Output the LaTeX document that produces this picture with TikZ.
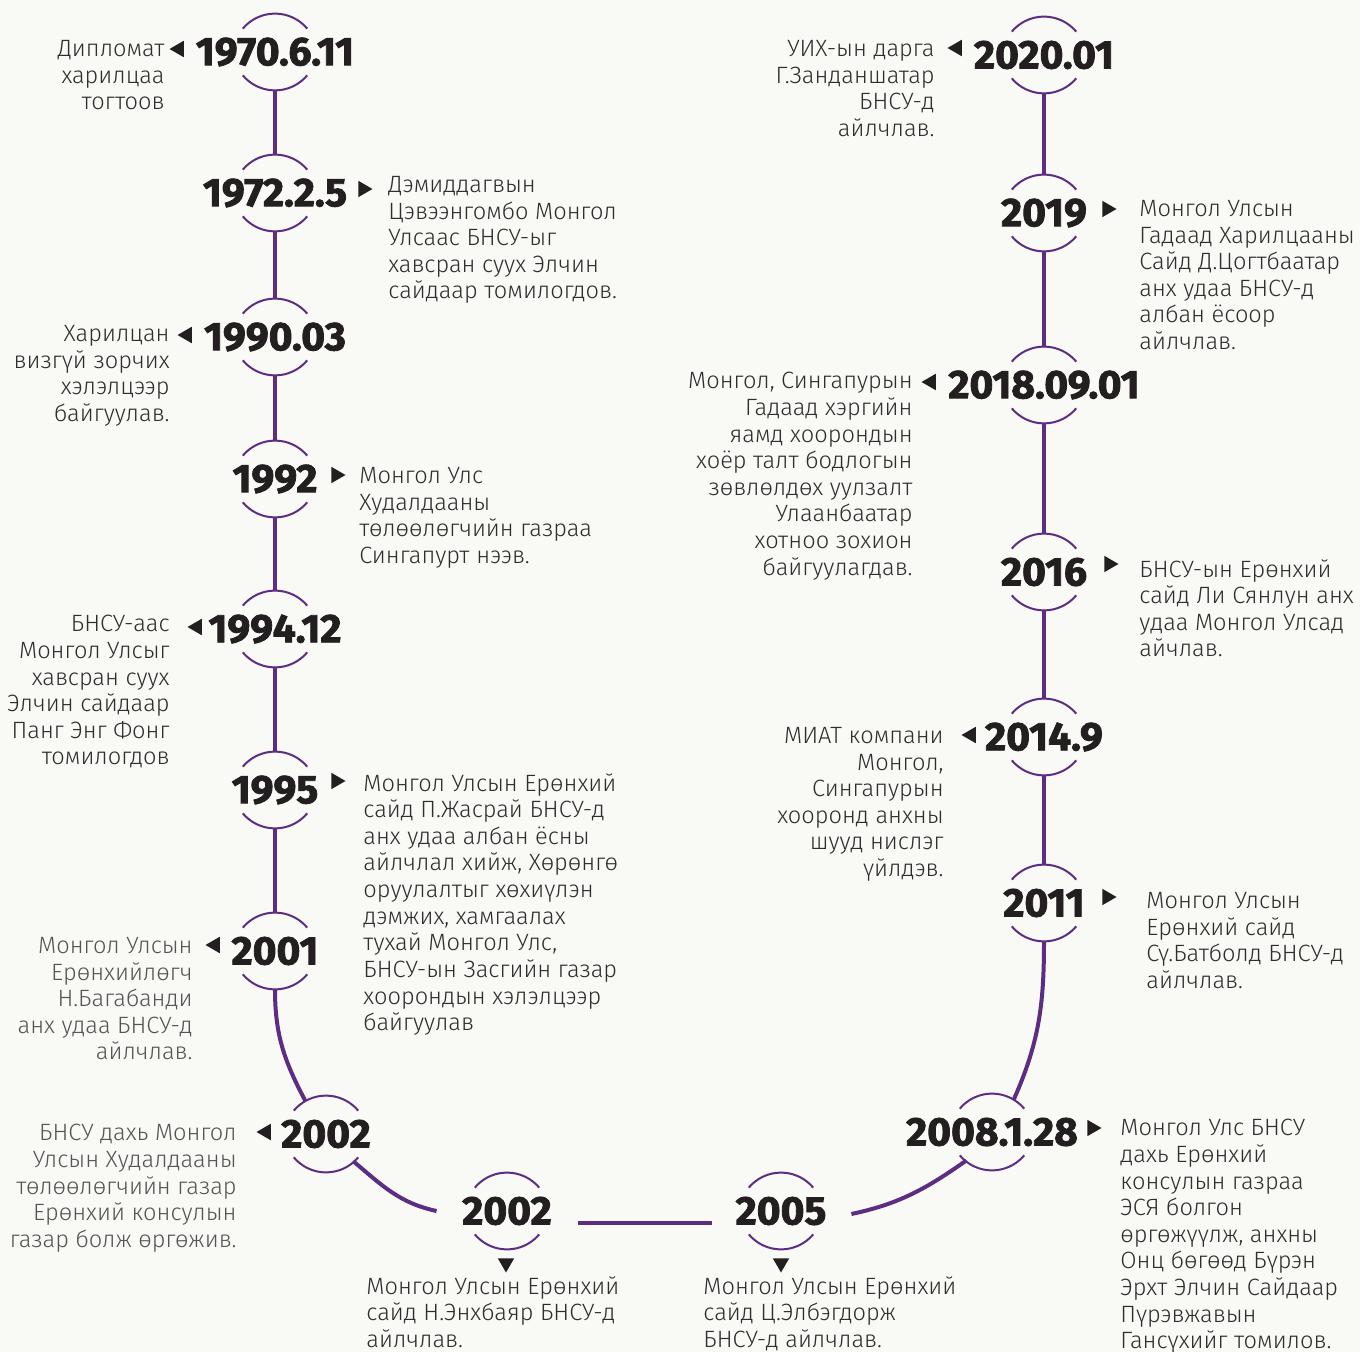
\documentclass[tikz,border=0pt]{standalone}
\usepackage{fontspec}
\setmainfont{Fira Sans}
\newfontfamily\yearfont{Fira Sans}[FakeStretch=1.02, BoldFeatures={FakeBold=2}]
\newfontfamily\bodyfont{Fira Sans Light}
\usepackage{tikz}
\usetikzlibrary{shapes.geometric, positioning, calc}
\definecolor{linepurple}{HTML}{5C2D82}
\definecolor{inkblack}{HTML}{231F20}
\definecolor{textgray}{HTML}{2E2E2E}
\definecolor{softgray}{HTML}{555555}
\definecolor{paper}{HTML}{F9F9F6}

\begin{document}
\begin{tikzpicture}[
    x=0.5pt, y=-0.5pt,
    ring/.style={circle, minimum size=38pt, inner sep=0pt},
    year/.style={font=\yearfont\bfseries\fontsize{20}{22}\selectfont, text=inkblack, inner sep=0pt},
    arcline/.style={draw=linepurple, line width=1pt},
    spine/.style={draw=linepurple, line width=2pt},
    tip/.style={regular polygon, regular polygon sides=3, fill=inkblack, inner sep=0pt, minimum size=9.5pt},
    tipleft/.style={tip, shape border rotate=90},
    tipright/.style={tip, shape border rotate=270},
    tipdown/.style={tip, shape border rotate=180},
    note/.style={font=\bodyfont\fontsize{11.8}{13.3}\selectfont, text=textgray, inner sep=0pt, execute at begin node=\strut},
    noteL/.style={note, align=right, anchor=north east},
    noteR/.style={note, align=left, anchor=north west},
    faint/.style={text=softgray}
]
\useasboundingbox[fill=paper] (0,0) rectangle (1360,1352);

% left column
\node[ring, label={[year]center:1970.6.11}] (y1970) at (275,52) {};
\node[ring, label={[year]center:1972.2.5}] (y1972) at (275,193) {};
\node[ring, label={[year]center:1990.03}] (y1990) at (275,337) {};
\node[ring, label={[year]center:1992}] (y1992) at (275,479) {};
\node[ring, label={[year]center:1994.12}] (y1994) at (275,629) {};
\node[ring, label={[year]center:1995}] (y1995) at (275,790) {};
\node[ring, label={[year]center:2001}] (y2001) at (275,951) {};
\node[ring, label={[year]center:2002}] (y2002a) at (326,1134) {};

% bottom
\node[ring, label={[year]center:2002}] (y2002b) at (507,1211) {};
\node[ring, label={[year]center:2005}] (y2005) at (781,1211) {};

% right column
\node[ring, label={[year]center:2008.1.28}] (y2008) at (992,1132) {};
\node[ring, label={[year]center:2011}] (y2011) at (1044,903) {};
\node[ring, label={[year]center:2014.9}] (y2014) at (1044,737) {};
\node[ring, label={[year]center:2016}] (y2016) at (1044,572) {};
\node[ring, label={[year]center:2018.09.01}] (y2018) at (1044,385) {};
\node[ring, label={[year]center:2019}] (y2019) at (1044,213) {};
\node[ring, label={[year]center:2020.01}] (y2020) at (1044,55) {};

% arcs round each year
\foreach \n in {y1970,y1972,y1990,y1992,y1994,y1995,y2001,y2002a,y2002b,y2005,y2008,y2011,y2014,y2016,y2018,y2019,y2020} {
  \draw[arcline] (\n.north) arc[start angle=90, end angle=140, radius=21pt];
  \draw[arcline] (\n.north) arc[start angle=90, end angle=40, radius=21pt];
  \draw[arcline] (\n.south) arc[start angle=-90, end angle=-140, radius=21pt];
  \draw[arcline] (\n.south) arc[start angle=-90, end angle=-40, radius=21pt];
}

% timeline
\draw[spine] (y1970.south) -- (y1972.north);
\draw[spine] (y1972.south) -- (y1990.north);
\draw[spine] (y1990.south) -- (y1992.north);
\draw[spine] (y1992.south) -- (y1994.north);
\draw[spine] (y1994.south) -- (y1995.north);
\draw[spine] (y1995.south) -- (y2001.north);
\draw[spine] (y2001.south) to[out=-90, in=118] (y2002a.122);
\draw[spine] (y2002a.-45) to[out=-40, in=168] ([xshift=-16pt]y2002b.west);
\draw[spine] ([shift={(33,12)}]y2002b.east) -- ([shift={(-31,12)}]y2005.west);
\draw[spine] ([shift={(32,3)}]y2005.east) to[out=12, in=215] (y2008.228);
\draw[spine] (y2008.56) to[out=66, in=-90] (y2011.south);
\draw[spine] (y2011.north) -- (y2014.south);
\draw[spine] (y2014.north) -- (y2016.south);
\draw[spine] (y2016.north) -- (y2018.south);
\draw[spine] (y2018.north) -- (y2019.south);
\draw[spine] (y2019.north) -- (y2020.south);

% pointers
\node[tipleft] (p1970) at (179,49) {};
\node[tipright] (p1972) at (363,189) {};
\node[tipleft] (p1990) at (187,335) {};
\node[tipright] (p1992) at (336,475) {};
\node[tipleft] (p1994) at (197,627) {};
\node[tipright] (p1995) at (336,781) {};
\node[tipleft] (p2001) at (215,945) {};
\node[tipleft] (p2002a) at (266,1132) {};
\node[tipdown] (p2002b) at (506,1263) {};
\node[tipdown] (p2005) at (781,1263) {};
\node[tipright] (p2008) at (1092,1128) {};
\node[tipright] (p2011) at (1107,897) {};
\node[tipleft] (p2014) at (971,735) {};
\node[tipright] (p2016) at (1109,564) {};
\node[tipleft] (p2018) at (931,382) {};
\node[tipright] (p2019) at (1107,209) {};
\node[tipleft] (p2020) at (957,48) {};

% texts
\node[noteL] (t1970) at (165,40) {Дипломат\\харилцаа\\тогтоов};
\node[noteR] (t1972) at (388,176) {Дэмиддагвын\\Цэвээнгомбо Монгол\\Улсаас БНСУ-ыг\\хавсран суух Элчин\\сайдаар томилогдов.};
\node[noteL] (t1990) at (170,325) {Харилцан\\визгүй зорчих\\хэлэлцээр\\байгуулав.};
\node[noteR] (t1992) at (359,467) {Монгол Улс\\Худалдааны\\төлөөлөгчийн газраа\\Сингапурт нээв.};
\node[noteL] (t1994) at (170,615) {БНСУ-аас\\Монгол Улсыг\\хавсран суух\\Элчин сайдаар\\Панг Энг Фонг\\томилогдов};
\node[noteR] (t1995) at (363,773) {Монгол Улсын Ерөнхий\\сайд П.Жасрай БНСУ-д\\анх удаа албан ёсны\\айлчлал хийж, Хөрөнгө\\оруулалтыг хөхиүлэн\\дэмжих, хамгаалах\\тухай Монгол Улс,\\БНСУ-ын Засгийн газар\\хоорондын хэлэлцээр\\байгуулав};
\node[noteL, faint] (t2001) at (193,937) {Монгол Улсын\\Ерөнхийлөгч\\Н.Багабанди\\анх удаа БНСУ-д\\айлчлав.};
\node[noteL, faint] (t2002a) at (237,1124) {БНСУ дахь Монгол\\Улсын Худалдааны\\төлөөлөгчийн газар\\Ерөнхий консулын\\газар болж өргөжив.};
\node[noteR] (t2002b) at (366,1276) {Монгол Улсын Ерөнхий\\сайд Н.Энхбаяр БНСУ-д\\айлчлав.};
\node[noteR] (t2005) at (703,1276) {Монгол Улсын Ерөнхий\\сайд Ц.Элбэгдорж\\БНСУ-д айлчлав.};
\node[noteR] (t2008) at (1120,1119) {Монгол Улс БНСУ\\дахь Ерөнхий\\консулын газраа\\ЭСЯ болгон\\өргөжүүлж, анхны\\Онц бөгөөд Бүрэн\\Эрхт Элчин Сайдаар\\Пүрэвжавын\\Гансүхийг томилов.};
\node[noteR] (t2011) at (1146,892) {Монгол Улсын\\Ерөнхий сайд\\Сү.Батболд БНСУ-д\\айлчлав.};
\node[noteL] (t2014) at (944,727) {МИАТ компани\\Монгол,\\Сингапурын\\хооронд анхны\\шууд нислэг\\үйлдэв.};
\node[noteR] (t2016) at (1139,559) {БНСУ-ын Ерөнхий\\сайд Ли Сянлун анх\\удаа Монгол Улсад\\айчлав.};
\node[noteL] (t2018) at (913,372) {Монгол, Сингапурын\\Гадаад хэргийн\\яамд хоорондын\\хоёр талт бодлогын\\зөвлөлдөх уулзалт\\Улаанбаатар\\хотноо зохион\\байгуулагдав.};
\node[noteR] (t2019) at (1139,200) {Монгол Улсын\\Гадаад Харилцааны\\Сайд Д.Цогтбаатар\\анх удаа БНСУ-д\\албан ёсоор\\айлчлав.};
\node[noteL] (t2020) at (935,40) {УИХ-ын дарга\\Г.Занданшатар\\БНСУ-д\\айлчлав.};
\end{tikzpicture}
\end{document}
